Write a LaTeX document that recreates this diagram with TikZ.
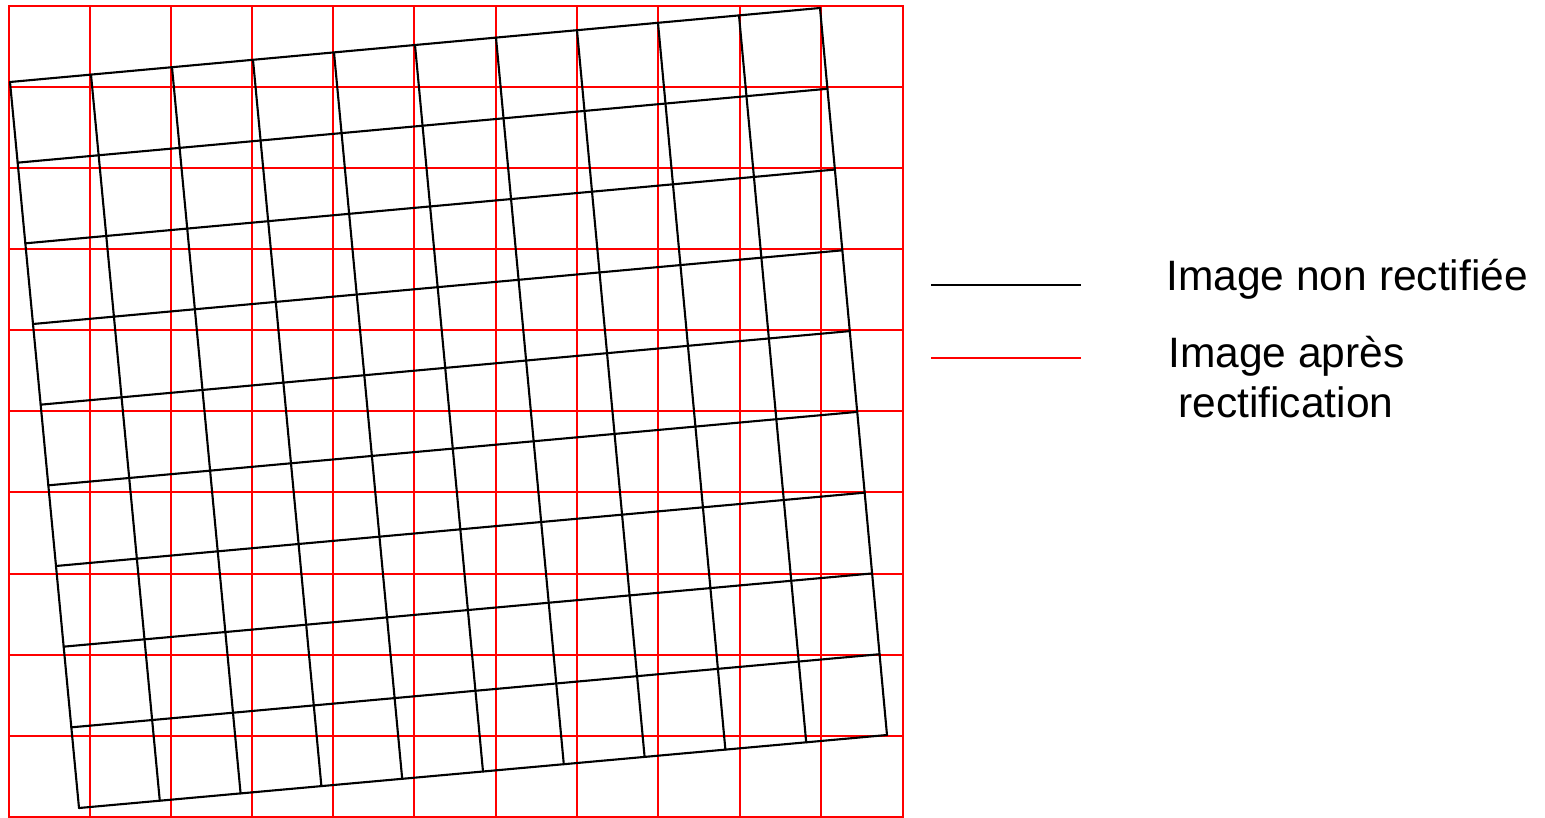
\documentclass[tikz,border=0pt]{standalone}
\usepackage{fontspec}
\setmainfont{Liberation Sans}
\usepackage{tikz}
\usetikzlibrary{calc}
\tikzset{
  rectline/.style={draw=red, line width=1.25pt, line cap=rect},
  rawline/.style={draw=black, line width=1.2pt, line cap=round},
  legendlabel/.style={font=\fontsize{24.2}{27.9}\selectfont, align=left, inner sep=0pt, anchor=base west},
}

\begin{document}
\begin{tikzpicture}[x=0.02cm, y=-0.02cm]
  \useasboundingbox (0,0) rectangle (1545,818);

  % grid after rectification
  \foreach \x in {9,90,171,252,333,414,496,577,658,740,821,903}
    \draw[rectline] (\x,6) -- (\x,817);
  \foreach \y in {6,87,168,249,330,411,492,574,655,736,817}
    \draw[rectline] (9,\y) -- (903,\y);

  % original (tilted) grid
  \coordinate (tl) at (10,82);
  \coordinate (tr) at (820,8);
  \coordinate (br) at (887,735);
  \coordinate (bl) at (79,808);
  \foreach \i in {0,...,10}
    \draw[rawline] ($(tl)!\i/10!(tr)$) -- ($(bl)!\i/10!(br)$);
  \foreach \j in {0,...,9}
    \draw[rawline] ($(tl)!\j/9!(bl)$) -- ($(tr)!\j/9!(br)$);

  % legend
  \coordinate (rawA) at (931,285);
  \coordinate (rawB) at (1081,285);
  \coordinate (rectA) at (931,358);
  \coordinate (rectB) at (1081,358);
  \draw[rawline, line cap=butt] (rawA) -- (rawB);
  \draw[rectline, line cap=butt] (rectA) -- (rectB);
  \node[legendlabel] (rawlabel) at (1166,290) {Image non rectifiée};
  \node[legendlabel] (rectlabel) at (1168,417) {Image après\\\hspace{0.2cm}rectification};
\end{tikzpicture}
\end{document}
